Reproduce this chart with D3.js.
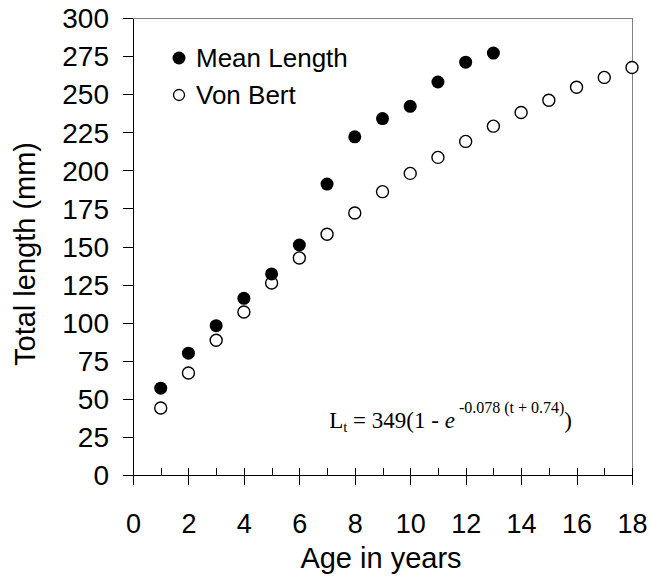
<!DOCTYPE html>
<html><head><meta charset="utf-8">
<script src="https://cdn.jsdelivr.net/npm/d3@7"></script>
<style>body{margin:0;background:#fff}svg{display:block}</style>
</head><body>
<svg id="c" width="650" height="579"></svg>
<script>
const ages = [1,2,3,4,5,6,7,8,9,10,11,12,13];
const meanLength = [57,80,98,116,132,151,191,222,234,242,258,271,277];
const vbAges = [1,2,3,4,5,6,7,8,9,10,11,12,13,14,15,16,17,18];
const vonBert = [44,67,88.5,107,126,142.5,158,172,186,198,208.5,219,229,238,246,254.5,261,267.5];
const xTicks = [0,2,4,6,8,10,12,14,16,18];
const xMinor = d3.range(0,19,1);
const yTicks = [0,25,50,75,100,125,150,175,200,225,250,275,300];

const svg = d3.select('#c');
const L=133, R=632, T=18, B=475;
const x = d3.scaleLinear().domain([0,18]).range([L,R]);
const y = d3.scaleLinear().domain([0,300]).range([B,T]);
const sans = "'Liberation Sans', Arial, sans-serif";
const serif = "'Liberation Serif', 'Times New Roman', serif";

// frame
svg.append('path').attr('d',`M${L},${T}H${R}V${B}`).attr('fill','none').attr('stroke','#808080').attr('stroke-width',1).attr('shape-rendering','crispEdges');

// y axis
const ya = svg.append('g').attr('transform',`translate(${L},0)`)
  .call(d3.axisLeft(y).tickValues(yTicks).tickSize(10).tickPadding(14).tickSizeOuter(0));
ya.select('.domain').attr('stroke','#000').attr('shape-rendering','crispEdges');
ya.selectAll('.tick line').attr('stroke','#000').attr('shape-rendering','crispEdges');
ya.selectAll('.tick text').attr('font-family',sans).attr('font-size',28).attr('fill','#000').attr('dy','0.35em');

// x axis minor (inside)
const xm = svg.append('g').attr('transform',`translate(0,${B})`)
  .call(d3.axisTop(x).tickValues(xMinor.filter(d=>d>0)).tickSize(7).tickFormat(''));
xm.select('.domain').remove();
xm.selectAll('.tick line').attr('stroke','#000').attr('shape-rendering','crispEdges');
// x axis major (outside)
const xa = svg.append('g').attr('transform',`translate(0,${B})`)
  .call(d3.axisBottom(x).tickValues(xTicks).tickSize(10).tickPadding(29).tickSizeOuter(0));
xa.select('.domain').attr('stroke','#000').attr('shape-rendering','crispEdges');
xa.selectAll('.tick line').attr('stroke','#000').attr('shape-rendering','crispEdges');
xa.selectAll('.tick text').attr('font-family',sans).attr('font-size',27).attr('fill','#000');

// axis titles
svg.append('text').attr('x',381).attr('y',568).attr('text-anchor','middle')
  .attr('font-family',sans).attr('font-size',29).text('Age in years');
svg.append('text').attr('transform','translate(35,254) rotate(-90)').attr('text-anchor','middle')
  .attr('font-family',sans).attr('font-size',29).text('Total length (mm)');

// data
svg.append('g').selectAll('circle').data(vbAges.map((a,i)=>[a,vonBert[i]])).join('circle')
  .attr('cx',d=>x(d[0])).attr('cy',d=>y(d[1])).attr('r',6)
  .attr('fill','#fff').attr('stroke','#000').attr('stroke-width',1.4);
svg.append('g').selectAll('circle').data(ages.map((a,i)=>[a,meanLength[i]])).join('circle')
  .attr('cx',d=>x(d[0])).attr('cy',d=>y(d[1])).attr('r',6.5)
  .attr('fill','#000');

// legend
const leg = svg.append('g');
leg.append('circle').attr('cx',179).attr('cy',58).attr('r',6.5).attr('fill','#000');
leg.append('circle').attr('cx',179).attr('cy',95).attr('r',5.5).attr('fill','#fff').attr('stroke','#000').attr('stroke-width',1.3);
leg.append('text').attr('x',196).attr('y',67).attr('font-family',sans).attr('font-size',26).text('Mean Length');
leg.append('text').attr('x',196).attr('y',104).attr('font-family',sans).attr('font-size',26).text('Von Bert');

// equation
const eq = svg.append('text').attr('x',572).attr('y',428).attr('text-anchor','end')
  .attr('font-family',serif).attr('font-size',23).attr('fill','#000');
eq.append('tspan').text('L');
eq.append('tspan').attr('font-size',15).attr('dy',4).text('t');
eq.append('tspan').attr('dy',-4).text(' = 349(1 - ');
eq.append('tspan').attr('font-style','italic').text('e');
eq.append('tspan').attr('font-size',16).attr('dy',-15).text(' -0.078 (t + 0.74)');
eq.append('tspan').attr('dy',15).text(')');
</script>
</body></html>
